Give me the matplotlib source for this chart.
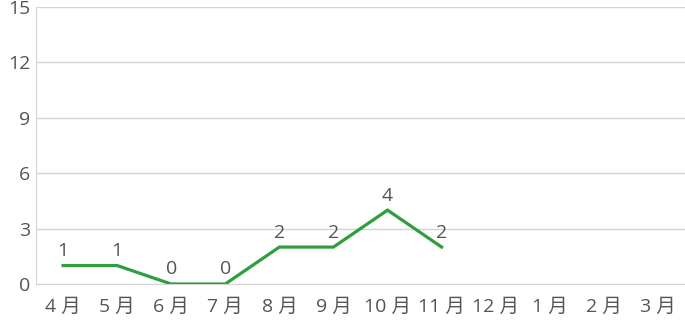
import numpy as np
import matplotlib
matplotlib.use("Agg")
import matplotlib.pyplot as plt

plt.rcParams["font.family"] = ["Open Sans", "Noto Sans CJK JP", "DejaVu Sans"]

months = ["4 月", "5 月", "6 月", "7 月", "8 月", "9 月", "10 月", "11 月", "12 月", "1 月", "2 月", "3 月"]
counts = [1, 1, 0, 0, 2, 2, 4, 2]
y_ticks = [0, 3, 6, 9, 12, 15]

TEXT = "#555555"
GRID = "#d4d4d4"
LINE = "#2e9e3e"
FS = 14

fig = plt.figure(figsize=(6.85, 3.23), dpi=100)
ax = fig.add_axes([36 / 685, 39 / 323, 649 / 685, 277 / 323])

x = np.arange(len(counts))
ax.plot(x, counts, color=LINE, linewidth=2.3, solid_joinstyle="miter", zorder=3)
for xi, v in zip(x, counts):
    ax.annotate(str(v), (xi, v), xytext=(0, 4), textcoords="offset points",
                ha="center", va="bottom", fontsize=FS, color=TEXT)

ax.set_xlim(-0.5, len(months) - 0.5)
ax.set_ylim(0, 15)
ax.set_xticks(np.arange(len(months)))
ax.set_xticklabels(months)
ax.set_yticks(y_ticks)
ax.tick_params(length=0, labelsize=FS, labelcolor=TEXT)
ax.tick_params(axis="x", pad=10)
ax.tick_params(axis="y", pad=4)
ax.grid(axis="y", color=GRID, linewidth=1)
ax.set_axisbelow(True)
for s in ["top", "right"]:
    ax.spines[s].set_visible(False)
ax.spines["left"].set_color(GRID)
ax.spines["bottom"].set_color(GRID)

fig.savefig("out.png", dpi=100)
